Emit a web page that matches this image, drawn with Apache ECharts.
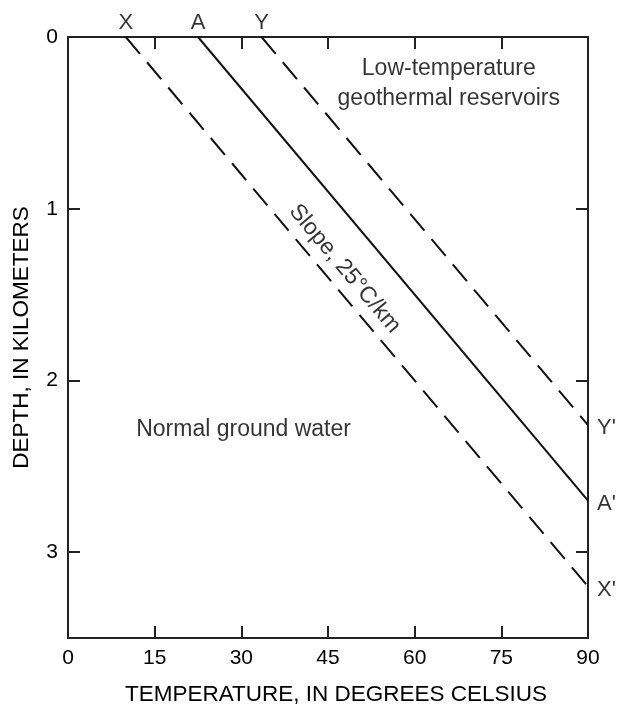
<!DOCTYPE html>
<html>
<head>
<meta charset="utf-8">
<script src="https://cdn.jsdelivr.net/npm/echarts@6/dist/echarts.min.js"></script>
<style>
html,body{margin:0;padding:0;background:#fff;}
#chart{width:617px;height:711px;}
</style>
</head>
<body>
<div id="chart"></div>
<script>
// ---- data ----
const lineNames = ['X', 'A', 'Y'];
const startTemps = [10, 22.5, 33.5];   // °C at 0 km depth
const endTemp = 90;                     // °C at right edge
const endDepths = [3.2, 2.7, 2.26];     // km depth at 90 °C
const lineDashed = [true, false, true];
const tempTicks = [0, 15, 30, 45, 60, 75, 90];
const depthTicks = [0, 1, 2, 3];
const noteTexts = ['Low-temperature\ngeothermal reservoirs', 'Normal ground water', 'Slope, 25°C/km'];
const notePoints = [[65.9, 0.27], [11.8, 2.285], [47.9, 1.35]];

const FONT = 'Liberation Sans, Arial, sans-serif';
const INK = '#000';

const series = [];
lineNames.forEach((n, i) => {
  series.push({
    type: 'line',
    data: [[startTemps[i], 0], [endTemp, endDepths[i]]],
    showSymbol: false,
    symbol: 'none',
    silent: true,
    lineStyle: { color: '#111', width: 2, type: lineDashed[i] ? [22, 11] : 'solid' },
    z: 3
  });
});
// end labels
series.push({
  type: 'scatter', symbolSize: 0, silent: true,
  data: lineNames.map((n, i) => ({
    value: [startTemps[i], 0],
    label: { show: true, formatter: n, position: 'top', distance: 3, color: INK, fontFamily: FONT, fontSize: 22 }
  })).concat(lineNames.map((n, i) => ({
    value: [endTemp, endDepths[i]],
    label: { show: true, formatter: n + "'", position: 'right', distance: 9, offset: [0, 3], color: INK, fontFamily: FONT, fontSize: 22 }
  }))),
  z: 5
});
// annotations
const noteBase = { show: true, position: 'inside', color: INK, fontFamily: FONT, fontSize: 23 };
series.push({
  type: 'scatter', symbolSize: 0, silent: true,
  data: [
    { value: notePoints[0], label: Object.assign({}, noteBase, { formatter: noteTexts[0], align: 'center', verticalAlign: 'middle', lineHeight: 30 }) },
    { value: notePoints[1], label: Object.assign({}, noteBase, { formatter: noteTexts[1], align: 'left', verticalAlign: 'middle' }) },
    { value: notePoints[2], label: Object.assign({}, noteBase, { formatter: noteTexts[2], align: 'center', verticalAlign: 'middle', rotate: -50 }) }
  ],
  z: 5
});

const axisLineStyle = { color: '#222', width: 2 };
const tickStyle = { show: true, inside: true, length: 12, lineStyle: { color: '#222', width: 2 } };

const option = {
  backgroundColor: '#fff',
  animation: false,
  grid: { left: 68, right: 29, top: 37, bottom: 69, containLabel: false },
  xAxis: [
    {
      type: 'value', min: tempTicks[0], max: tempTicks[tempTicks.length - 1], interval: 15,
      position: 'bottom',
      axisLine: { show: true, onZero: false, lineStyle: axisLineStyle },
      axisTick: tickStyle,
      splitLine: { show: false },
      axisLabel: { fontFamily: FONT, fontSize: 21, color: INK, margin: 10 },
      name: 'TEMPERATURE, IN DEGREES CELSIUS',
      nameLocation: 'middle', nameGap: 45,
      nameTextStyle: { fontFamily: FONT, fontSize: 22.5, color: INK, padding: [0, 0, 0, 16] }
    },
    {
      type: 'value', min: 0, max: 90, interval: 15, position: 'top',
      axisLine: { show: true, onZero: false, lineStyle: axisLineStyle },
      axisTick: tickStyle,
      splitLine: { show: false },
      axisLabel: { show: false }
    }
  ],
  yAxis: [
    {
      type: 'value', inverse: true, min: 0, max: 3.5, interval: 1,
      position: 'left',
      axisLine: { show: true, onZero: false, lineStyle: axisLineStyle },
      axisTick: tickStyle,
      splitLine: { show: false },
      axisLabel: {
        fontFamily: FONT, fontSize: 21, color: INK, margin: 10,
        formatter: v => depthTicks.indexOf(v) >= 0 ? String(v) : ''
      },
      name: 'DEPTH, IN KILOMETERS',
      nameLocation: 'middle', nameGap: 35, nameRotate: 90,
      nameTextStyle: { fontFamily: FONT, fontSize: 22.5, color: INK }
    },
    {
      type: 'value', inverse: true, min: 0, max: 3.5, interval: 1,
      position: 'right',
      axisLine: { show: true, onZero: false, lineStyle: axisLineStyle },
      axisTick: tickStyle,
      splitLine: { show: false },
      axisLabel: { show: false }
    }
  ],
  series: series
};

const chart = echarts.init(document.getElementById('chart'), null, { renderer: 'canvas' });
chart.setOption(option);
</script>
</body>
</html>
